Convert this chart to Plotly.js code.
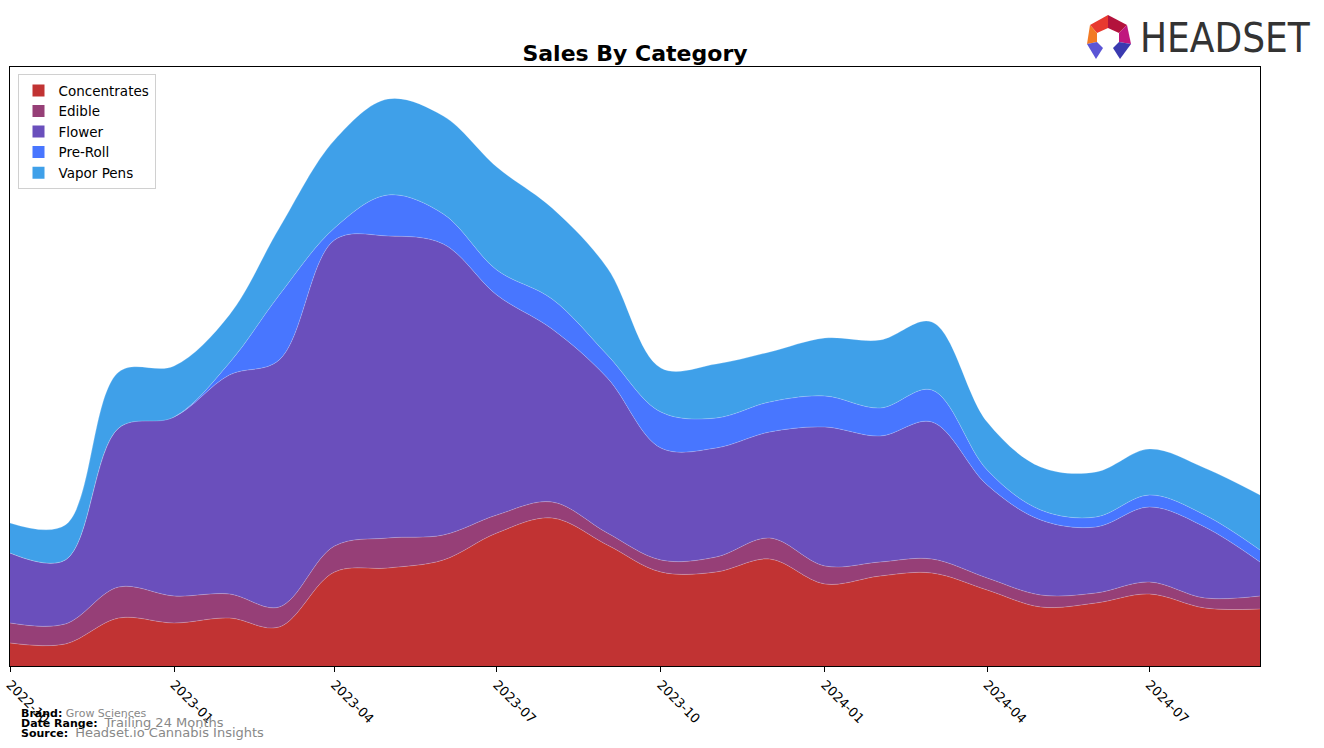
<!DOCTYPE html>
<html>
<head>
<meta charset="utf-8">
<script src="https://cdn.plot.ly/plotly-3.0.1.min.js"></script>
<style>
  html, body { margin: 0; padding: 0; background: #fff; }
  #chart { width: 1324px; height: 748px; }
</style>
</head>
<body>
<div id="chart"></div>
<script>
// monthly sales by category (arbitrary units)
var months = ['2022-10-01','2022-11-01','2022-12-01','2023-01-01','2023-02-01','2023-03-01',
              '2023-04-01','2023-05-01','2023-06-01','2023-07-01','2023-08-01','2023-09-01',
              '2023-10-01','2023-11-01','2023-12-01','2024-01-01','2024-02-01','2024-03-01',
              '2024-04-01','2024-05-01','2024-06-01','2024-07-01','2024-08-01','2024-09-01'];

var concentrates = [23,22,48,43,48,39,94,98,106,133,148,121,94,94,107,82,90,93,76,59,63,72,58,57];
var edible       = [20,20,31,27,24,20,26,30,25,18,16,12,12,15,21,18,14,14,12,12,10,12,10,13];
var flower       = [70,64,159,179,219,247,306,302,291,220,173,155,112,109,106,139,126,137,93,75,66,75,71,34];
var preRoll      = [0,0,0,0,12,65,12,41,30,25,30,23,36,30,30,31,28,32,15,10,10,12,12,12];
var vaporPens    = [30,35,56,51,48,67,88,96,98,103,91,87,44,54,50,58,68,68,48,43,45,46,47,55];

var categories = ['Concentrates','Edible','Flower','Pre-Roll','Vapor Pens'];
var colors = ['#c13333','#963f77','#6a4fbc','#4876ff','#3fa0e9'];
var series = [concentrates, edible, flower, preRoll, vaporPens];

var tickVals = ['2022-10-01','2023-01-01','2023-04-01','2023-07-01','2023-10-01','2024-01-01','2024-04-01','2024-07-01'];
var tickText = ['2022-10','2023-01','2023-04','2023-07','2023-10','2024-01','2024-04','2024-07'];

// build one stacked, smoothed area per category
var data = [];
for (var i = 0; i < categories.length; i++) {
  data.push({
    x: months,
    y: series[i],
    name: categories[i],
    legendgroup: categories[i],
    showlegend: false,
    type: 'scatter',
    mode: 'lines',
    stackgroup: 'one',
    fillcolor: colors[i],
    line: {shape: 'spline', smoothing: 1, width: 0.6, color: 'rgba(255,255,255,0.35)'},
    hoverinfo: 'x+y+name'
  });
}
// bar traces with no value, only to get box-shaped legend patches
for (var j = 0; j < categories.length; j++) {
  data.push({
    x: [months[0]], y: [null],
    type: 'bar',
    name: categories[j],
    legendgroup: categories[j],
    hoverinfo: 'skip',
    marker: {color: colors[j]}
  });
}

// pixel -> paper helpers for the decorations outside the plot
var PL = 10, PR = 1260, PT = 67, PB = 666;
function px(x) { return (x - PL) / (PR - PL); }
function py(y) { return (PB - y) / (PB - PT); }
function poly(pts, color) {
  var d = 'M' + pts.map(function (p) { return px(p[0]) + ',' + py(p[1]); }).join(' L') + ' Z';
  return {type: 'path', xref: 'paper', yref: 'paper', path: d, fillcolor: color, line: {width: 0}};
}

// Headset logo mark
var shapes = [
  poly([[1090,25],[1108,15],[1108,28],[1097,33]], '#e8392f'),
  poly([[1108,15],[1127,25],[1119,33],[1108,28]], '#b3123c'),
  poly([[1090,25],[1097,33],[1097,42],[1087,44]], '#f27a24'),
  poly([[1127,25],[1131,44],[1119,42],[1119,33]], '#c0177e'),
  poly([[1087,44],[1097,42],[1103,48],[1096,59]], '#5b55d6'),
  poly([[1131,44],[1119,42],[1113,48],[1120,59]], '#3a3ab0')
];

var annotations = [
  {text: 'HEADSET', xref: 'paper', yref: 'paper', x: px(1138), y: py(38), xanchor: 'left', yanchor: 'middle',
   showarrow: false, font: {family: 'DejaVu Sans Condensed, DejaVu Sans', size: 40, color: '#333333'}},
  {text: '<b>Brand:</b> <span style="color:#888">Grow Sciences</span>', xref: 'paper', yref: 'paper',
   x: px(19), y: py(713), xanchor: 'left', yanchor: 'middle', showarrow: false,
   font: {family: 'DejaVu Sans', size: 11, color: '#000'}},
  {text: '<b>Date Range:</b>  <span style="color:#888;font-size:13px">Trailing 24 Months</span>', xref: 'paper', yref: 'paper',
   x: px(19), y: py(722), xanchor: 'left', yanchor: 'middle', showarrow: false,
   font: {family: 'DejaVu Sans', size: 11, color: '#000'}},
  {text: '<b>Source:</b>  <span style="color:#888;font-size:13px">Headset.io Cannabis Insights</span>', xref: 'paper', yref: 'paper',
   x: px(19), y: py(732), xanchor: 'left', yanchor: 'middle', showarrow: false,
   font: {family: 'DejaVu Sans', size: 11, color: '#000'}}
];

var layout = {
  width: 1324,
  height: 748,
  margin: {l: PL, r: 1324 - PR, t: PT, b: 748 - PB},
  paper_bgcolor: '#fff',
  plot_bgcolor: '#fff',
  font: {family: 'DejaVu Sans', color: '#000'},
  title: {text: '<b>Sales By Category</b>', xref: 'paper', x: 0.5, xanchor: 'center', y: 1 - 53 / 748, yanchor: 'middle',
          font: {family: 'DejaVu Sans', size: 22, color: '#000'}},
  showlegend: true,
  legend: {x: 0.006, y: 0.988, xanchor: 'left', yanchor: 'top', bgcolor: '#fff',
           bordercolor: '#d0d0d0', borderwidth: 1, font: {size: 13.5}, traceorder: 'normal',
           itemwidth: 30},
  xaxis: {
    type: 'date',
    range: ['2022-10-01', '2024-09-01'],
    tickmode: 'array',
    tickvals: tickVals,
    ticktext: tickText,
    tickangle: 45,
    ticks: 'outside',
    ticklen: 5,
    tickcolor: '#000',
    tickfont: {size: 13, color: '#000'},
    showgrid: false,
    zeroline: false,
    showline: true,
    linecolor: '#000',
    linewidth: 1,
    mirror: true
  },
  yaxis: {
    range: [0, 599],
    showticklabels: false,
    ticks: '',
    showgrid: false,
    zeroline: false,
    showline: true,
    linecolor: '#000',
    linewidth: 1,
    mirror: true
  },
  shapes: shapes,
  annotations: annotations
};

Plotly.newPlot('chart', data, layout, {displayModeBar: false, responsive: false});
</script>
</body>
</html>
